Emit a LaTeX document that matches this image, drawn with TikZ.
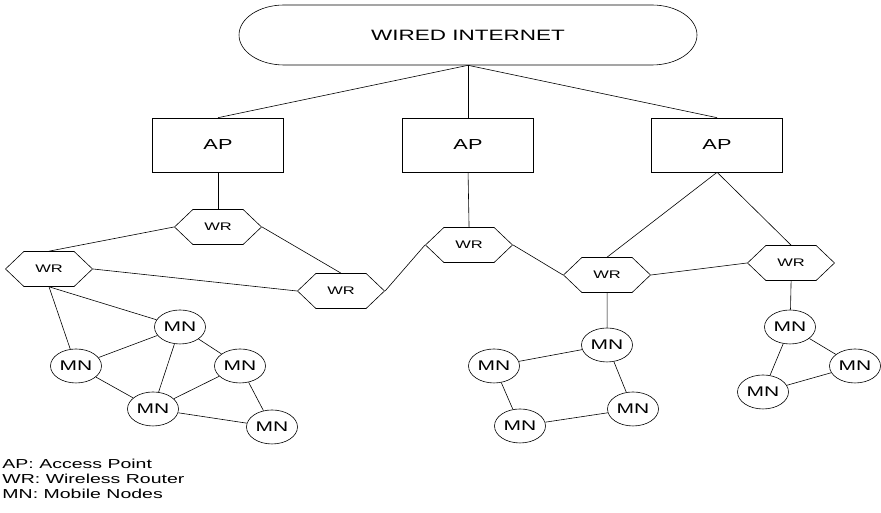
\documentclass[tikz,border=0pt]{standalone}
\usepackage{fontspec}
\setmainfont{Liberation Sans}
\usetikzlibrary{shapes.misc,shapes.symbols}
\tikzset{
  cloudnet/.style={draw,rounded rectangle,minimum width=312pt,minimum height=60pt,font=\fontsize{15}{18}\selectfont},
  accesspt/.style={draw,rectangle,minimum width=87pt,minimum height=54pt,font=\fontsize{14.5}{17}\selectfont},
  router/.style={draw,signal,signal to=east and west,signal pointer angle=110,minimum width=58pt,minimum height=35pt,inner sep=0pt,font=\fontsize{11}{13}\selectfont},
  mobile/.style={draw,circle,minimum size=34pt,inner sep=0pt,font=\fontsize{14}{16}\selectfont}
}
\begin{document}
\begin{tikzpicture}[x=0.6667pt,y=-1pt,xscale=1.5,transform shape,line width=0.6pt]
  \useasboundingbox (0,0) rectangle (881,513);

  \node[cloudnet] (net) at (468,35) {WIRED INTERNET};

  \node[accesspt] (ap1) at (218,145) {AP};
  \node[accesspt] (ap2) at (468,145) {AP};
  \node[accesspt] (ap3) at (717,145) {AP};

  \node[router] (wrA) at (218,227) {WR};
  \node[router] (wrB) at (49,269) {WR};
  \node[router] (wrC) at (341,291) {WR};
  \node[router] (wrD) at (469,245) {WR};
  \node[router] (wrE) at (607,275) {WR};
  \node[router] (wrF) at (791,263) {WR};

  % left cluster
  \node[mobile] (mn1) at (180,327) {MN};
  \node[mobile] (mn2) at (76,366) {MN};
  \node[mobile] (mn3) at (240,366) {MN};
  \node[mobile] (mn4) at (153,409) {MN};
  \node[mobile] (mn5) at (272,427) {MN};
  % middle cluster
  \node[mobile] (mn6) at (607,345) {MN};
  \node[mobile] (mn7) at (494,366) {MN};
  \node[mobile] (mn8) at (633,409) {MN};
  \node[mobile] (mn9) at (520,426) {MN};
  % right cluster
  \node[mobile] (mn10) at (790,327) {MN};
  \node[mobile] (mn11) at (855,366) {MN};
  \node[mobile] (mn12) at (763,392) {MN};

  \node[anchor=west,align=left,inner sep=0pt,font=\fontsize{13}{15}\selectfont] (legend) at (2,479)
    {AP: Access Point\\WR: Wireless Router\\MN: Mobile Nodes};

  \draw (net.south) -- (ap1.north);
  \draw (net.south) -- (ap2.north);
  \draw (net.south) -- (ap3.north);

  \draw (ap1.south) -- (wrA.north);
  \draw (ap2.south) -- (wrD.north);
  \draw (ap3.south) -- (wrE.north);
  \draw (ap3.south) -- (wrF.north);

  \draw (wrA.west) -- (wrB.north);
  \draw (wrA.east) -- (wrC.north);
  \draw (wrB.east) -- (wrC.west);
  \draw (wrC.east) -- (wrD.west);
  \draw (wrD.east) -- (wrE.west);
  \draw (wrE.east) -- (wrF.west);

  \draw (wrB.south) -- (mn2);
  \draw (wrB.south) -- (mn1);
  \draw (mn2) -- (mn1);
  \draw (mn2) -- (mn4);
  \draw (mn1) -- (mn4);
  \draw (mn1) -- (mn3);
  \draw (mn3) -- (mn4);
  \draw (mn3) -- (mn5);
  \draw (mn4) -- (mn5);

  \draw (wrE.south) -- (mn6);
  \draw (mn6) -- (mn7);
  \draw (mn6) -- (mn8);
  \draw (mn7) -- (mn9);
  \draw (mn9) -- (mn8);

  \draw (wrF.south) -- (mn10);
  \draw (mn10) -- (mn11);
  \draw (mn10) -- (mn12);
  \draw (mn12) -- (mn11);
\end{tikzpicture}
\end{document}
